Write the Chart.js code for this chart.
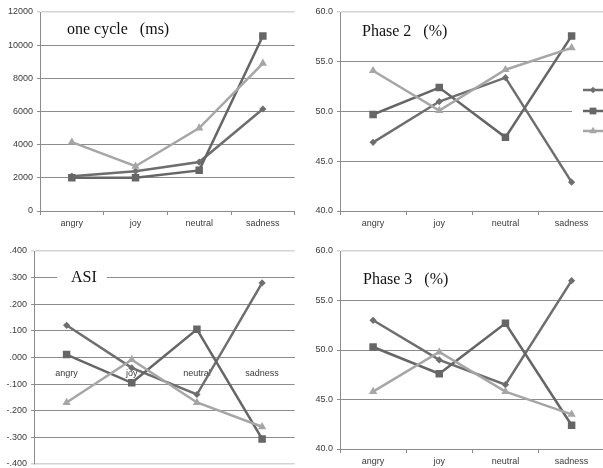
<!DOCTYPE html>
<html>
<head>
<meta charset="utf-8">
<title>Emotion gait measures</title>
<script src="https://cdn.jsdelivr.net/npm/chart.js@4.4.1/dist/chart.umd.min.js"></script>
<style>
  html, body { margin: 0; padding: 0; background: #fff; }
  body { position: relative; width: 603px; height: 468px; overflow: hidden; }
  canvas { position: absolute; }
</style>
</head>
<body>
<canvas id="cycleChart" width="300" height="230" style="left:0;top:0"></canvas>
<canvas id="phase2Chart" width="310" height="230" style="left:300px;top:0"></canvas>
<canvas id="asiChart" width="300" height="250" style="left:0;top:230px"></canvas>
<canvas id="phase3Chart" width="310" height="250" style="left:300px;top:230px"></canvas>
<script>
"use strict";

// categories shared by all four panels
const categories = ["angry", "joy", "neutral", "sadness"];
const seriesNames = ["Series1", "Series2", "Series3"];

// one cycle (ms)
const cycleS1 = [2100, 2400, 2950, 6150];
const cycleS2 = [2000, 2000, 2450, 10550];
const cycleS3 = [4150, 2700, 5000, 8900];

// Phase 2 (%)
const phase2S1 = [46.9, 51.0, 53.4, 42.9];
const phase2S2 = [49.7, 52.4, 47.4, 57.6];
const phase2S3 = [54.1, 50.1, 54.2, 56.4];

// ASI
const asiS1 = [0.121, -0.039, -0.139, 0.280];
const asiS2 = [0.011, -0.095, 0.106, -0.306];
const asiS3 = [-0.169, -0.008, -0.169, -0.260];

// Phase 3 (%)
const phase3S1 = [53.0, 49.0, 46.5, 57.0];
const phase3S2 = [50.3, 47.6, 52.7, 42.4];
const phase3S3 = [45.8, 49.8, 45.8, 43.5];

// y tick ranges
const cycleTicks = { min: 0, max: 12000, step: 2000 };
const phaseTicks = { min: 40, max: 60, step: 5 };
const asiTicks = { min: -0.4, max: 0.4, step: 0.1 };

const seriesStyle = [
  { color: "#6e6e6e", pointStyle: "rectRot", radius: 3.6 },
  { color: "#666666", pointStyle: "rect", radius: 5.3 },
  { color: "#a6a6a6", pointStyle: "triangle", radius: 4.8 }
];

const GRID = "#8c8c8c";
const GRID_LIGHT = "#d4d4d4";
const tickFont = { family: "'Liberation Sans', Arial, sans-serif", size: 9 };

function makeDatasets(values) {
  return values.map((v, i) => ({
    label: seriesNames[i],
    data: v,
    borderColor: seriesStyle[i].color,
    backgroundColor: seriesStyle[i].color,
    pointBackgroundColor: seriesStyle[i].color,
    pointBorderColor: seriesStyle[i].color,
    pointBorderWidth: 0,
    pointStyle: seriesStyle[i].pointStyle,
    pointRadius: seriesStyle[i].radius,
    borderWidth: 2.5,
    tension: 0,
    order: 3 - i
  }));
}

// draws a marker of a series by hand (used for the cut-off legend)
function drawMarker(ctx, style, x, y, r) {
  ctx.beginPath();
  if (style === "rectRot") {
    ctx.moveTo(x, y - r); ctx.lineTo(x + r, y); ctx.lineTo(x, y + r); ctx.lineTo(x - r, y);
  } else if (style === "rect") {
    const s = r * Math.SQRT1_2;
    ctx.rect(x - s, y - s, 2 * s, 2 * s);
  } else {
    ctx.moveTo(x, y - r); ctx.lineTo(x + r * 0.866, y + r * 0.5); ctx.lineTo(x - r * 0.866, y + r * 0.5);
  }
  ctx.closePath();
  ctx.fill();
}

const panelDecor = {
  id: "panelDecor",
  beforeDatasetsDraw(chart, args, opts) {
    if (!opts.text) return;
    const ctx = chart.ctx;
    ctx.save();
    if (opts.box) {
      ctx.fillStyle = "#fff";
      ctx.fillRect(opts.box[0], opts.box[1], opts.box[2], opts.box[3]);
    }
    ctx.font = "16px 'Liberation Serif', 'Times New Roman', serif";
    ctx.fillStyle = "#111";
    ctx.textBaseline = "alphabetic";
    ctx.fillText(opts.text, opts.x, opts.y);
    ctx.restore();
  },
  afterDraw(chart, args, opts) {
    if (!opts.legend) return;
    const ctx = chart.ctx;
    const lg = opts.legend;
    ctx.save();
    ctx.fillStyle = "#fff";
    ctx.fillRect(lg.boxX, lg.boxY, lg.boxW, lg.boxH);
    chart.data.datasets.forEach((ds, i) => {
      const y = lg.ys[i];
      ctx.strokeStyle = ds.borderColor;
      ctx.lineWidth = 2.5;
      ctx.beginPath();
      ctx.moveTo(lg.x0, y);
      ctx.lineTo(lg.x1, y);
      ctx.stroke();
      ctx.fillStyle = ds.borderColor;
      drawMarker(ctx, ds.pointStyle, lg.mx, y, ds.pointRadius * 0.9);
    });
    ctx.restore();
  }
};

function buildPanel(id, values, range, fmt, layout, decor) {
  const eps = 1e-9;
  const zeroAxis = layout.zeroAxis;
  const isLight = (c) => c.tick && (c.tick.value >= range.max - eps ||
    (zeroAxis && c.tick.value <= range.min + eps));

  return new Chart(document.getElementById(id), {
    type: "line",
    data: { labels: categories, datasets: makeDatasets(values) },
    plugins: [panelDecor],
    options: {
      responsive: false,
      animation: false,
      layout: { padding: layout.padding },
      plugins: {
        legend: { display: false },
        tooltip: { enabled: false },
        panelDecor: decor
      },
      scales: {
        x: {
          type: "category",
          offset: true,
          position: zeroAxis ? { y: 0 } : "bottom",
          grid: {
            offset: true,
            drawOnChartArea: false,
            drawTicks: !zeroAxis,
            tickLength: 4,
            color: GRID
          },
          border: { display: true, color: GRID },
          ticks: {
            color: "#3a3a3a",
            font: tickFont,
            padding: zeroAxis ? 11 : 3,
            maxRotation: 0,
            autoSkip: false
          },
          afterFit: zeroAxis ? undefined : (s) => { s.height = layout.xHeight; }
        },
        y: {
          min: range.min,
          max: range.max,
          grid: {
            color: (c) => (isLight(c) ? GRID_LIGHT : GRID),
            lineWidth: (c) => (isLight(c) ? 1.5 : 1),
            drawTicks: true,
            tickLength: 3
          },
          border: { display: true, color: GRID },
          ticks: {
            stepSize: range.step,
            color: "#3a3a3a",
            font: tickFont,
            padding: 4,
            callback: fmt
          },
          afterFit: (s) => { s.width = layout.yWidth; }
        }
      }
    }
  });
}

const fmtInt = (v) => String(Math.round(v));
const fmtOne = (v) => v.toFixed(1);
const fmtAsi = (v) => {
  const s = (Math.abs(v) < 1e-9 ? 0 : v).toFixed(3);
  return s.replace("0.", ".");
};

buildPanel("cycleChart", [cycleS1, cycleS2, cycleS3], cycleTicks, fmtInt,
  { padding: { top: 12, right: 3, bottom: 0, left: 0 }, yWidth: 40, xHeight: 19 },
  { text: "one cycle   (ms)", x: 67, y: 34 });

buildPanel("phase2Chart", [phase2S1, phase2S2, phase2S3], phaseTicks, fmtOne,
  { padding: { top: 12, right: 3, bottom: 0, left: 0 }, yWidth: 40, xHeight: 19 },
  { text: "Phase 2   (%)", x: 62, y: 36,
    legend: { boxX: 272, boxY: 80, boxW: 40, boxH: 62, x0: 283, x1: 310, mx: 293, ys: [90, 111, 131] } });

buildPanel("asiChart", [asiS1, asiS2, asiS3], asiTicks, fmtAsi,
  { padding: { top: 21, right: 2, bottom: 16, left: 0 }, yWidth: 34, zeroAxis: true },
  { text: "ASI", x: 71, y: 52, box: [57, 40, 50, 16] });

buildPanel("phase3Chart", [phase3S1, phase3S2, phase3S3], phaseTicks, fmtOne,
  { padding: { top: 21, right: 3, bottom: 12, left: 0 }, yWidth: 40, xHeight: 19 },
  { text: "Phase 3   (%)", x: 63, y: 54 });
</script>
</body>
</html>
